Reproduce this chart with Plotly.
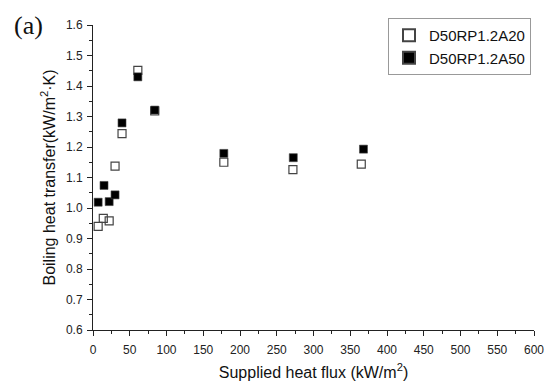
import plotly.graph_objects as go

# Data
x_a20 = [7, 14, 22, 30, 39.5, 61, 84, 178, 272, 365]
y_a20 = [0.94, 0.966, 0.958, 1.137, 1.244, 1.451, 1.318, 1.150, 1.126, 1.144]
x_a50 = [7, 15, 22, 30, 39.5, 61, 84, 178, 272.5, 368]
y_a50 = [1.019, 1.074, 1.021, 1.043, 1.279, 1.430, 1.321, 1.179, 1.165, 1.193]
names = ["D50RP1.2A20", "D50RP1.2A50"]

FONT = "Liberation Sans, Arial, sans-serif"

fig = go.Figure()
fig.add_trace(go.Scatter(
    x=x_a20, y=y_a20, mode="markers", name=names[0],
    marker=dict(symbol="square-open", size=8, color="#444444", line=dict(width=1.2, color="#444444")),
))
fig.add_trace(go.Scatter(
    x=x_a50, y=y_a50, mode="markers", name=names[1],
    marker=dict(symbol="square", size=8, color="black", line=dict(width=0.6, color="#444444")),
))

fig.update_layout(
    width=551, height=381,
    margin=dict(l=93, r=17, t=25, b=51),
    paper_bgcolor="white", plot_bgcolor="white",
    font=dict(family=FONT, color="#222222", size=12),
    showlegend=True,
    legend=dict(
        x=(531 - 93) / 441, y=1 + 7 / 305, xanchor="right", yanchor="top",
        bordercolor="#999999", borderwidth=1, bgcolor="white",
        font=dict(family=FONT, size=15, color="#111111"),
        itemsizing="constant", tracegroupgap=0, itemwidth=30,
    ),
    xaxis=dict(
        range=[0, 600], tickmode="linear", tick0=0, dtick=50, automargin=False,
        showgrid=False, zeroline=False, showline=True, linecolor="#222222", linewidth=1,
        ticks="outside", ticklen=5, tickcolor="#222222", ticklabelstandoff=4,
        minor=dict(ticks="outside", ticklen=3, dtick=25, tick0=0, tickcolor="#222222", showgrid=False),
        tickfont=dict(size=12, color="#222222"),
        title=dict(text="Supplied heat flux (kW/m<sup>2</sup>)", font=dict(size=16, color="#111111"), standoff=14),
    ),
    yaxis=dict(
        range=[0.6, 1.6], tickmode="linear", tick0=0.6, dtick=0.1, tickformat=".1f", automargin=False,
        showgrid=False, zeroline=False, showline=True, linecolor="#222222", linewidth=1,
        ticks="outside", ticklen=5, tickcolor="#222222", ticklabelstandoff=2,
        minor=dict(ticks="outside", ticklen=3, dtick=0.05, tick0=0.6, tickcolor="#222222", showgrid=False),
        tickfont=dict(size=12, color="#222222"),
        title=dict(text="Boiling heat transfer(kW/m<sup>2</sup>·K)", font=dict(size=16, color="#111111"), standoff=6),
    ),
)

fig.add_annotation(
    x=(12 - 93) / 441, y=1 + 16 / 305, xref="paper", yref="paper", text="(a)", showarrow=False,
    xanchor="left", yanchor="top",
    font=dict(family="Liberation Serif, Times New Roman, serif", size=26, color="#111111"),
)

fig.write_html("out.html")
